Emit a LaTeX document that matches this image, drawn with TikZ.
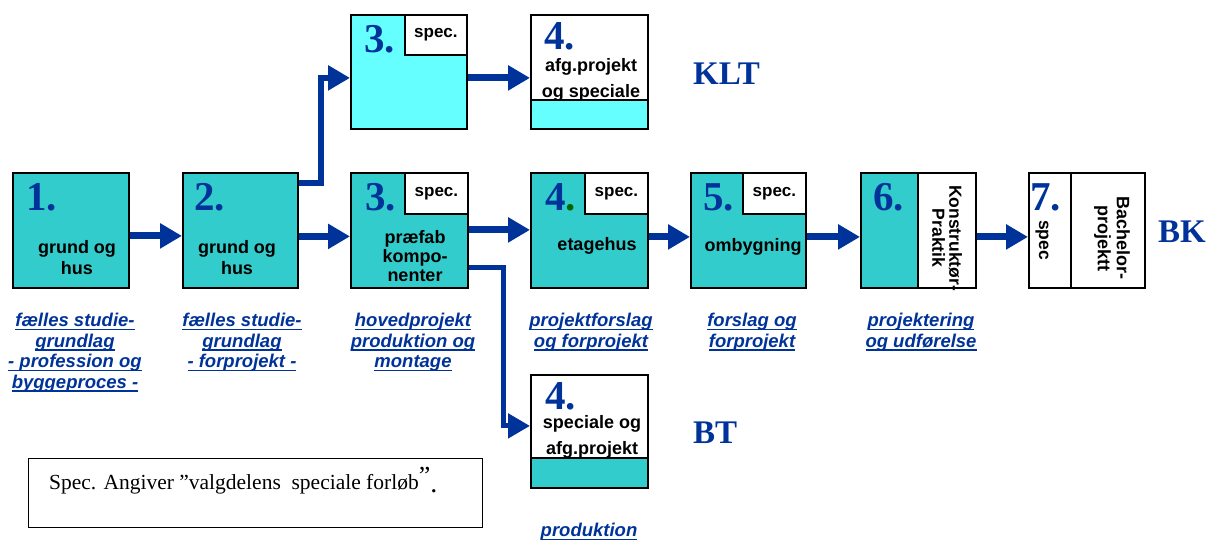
\documentclass[tikz,border=0pt]{standalone}
\usepackage{fontspec}
\setmainfont{Liberation Serif}
\newfontfamily\arial{Liberation Sans}
\usetikzlibrary{arrows.meta}
\definecolor{blu}{HTML}{003399}
\definecolor{tealb}{HTML}{33CCCC}
\definecolor{cyanb}{HTML}{66FFFF}
\definecolor{dkgreen}{HTML}{006600}
\newcommand\myul[1]{\setbox0\hbox{#1}\rlap{\rule[-3.5pt]{\wd0}{1.6pt}}\box0}
\tikzset{
  box/.style={draw=black, line width=1.8pt, anchor=north west, inner sep=0pt},
  specbox/.style={draw=black, line width=1.8pt, fill=white, anchor=north east, inner sep=0pt,
    minimum width=62pt, minimum height=41pt, font=\arial\bfseries\fontsize{17}{20}\selectfont},
  num/.style={anchor=base west, inner sep=0pt, text=blu, font=\bfseries\fontsize{41}{41}\selectfont},
  btxt/.style={inner sep=0pt, align=center, font=\arial\bfseries\fontsize{18}{21}\selectfont},
  vtxt/.style={inner sep=0pt, align=center, rotate=-90, font=\arial\bfseries\fontsize{17.5}{17}\selectfont},
  link/.style={anchor=north, inner sep=0pt, align=center, text=blu, font=\arial\bfseries\itshape\fontsize{18.5}{20.5}\selectfont},
  big/.style={anchor=base west, inner sep=0pt, text=blu, font=\bfseries\fontsize{33}{33}\selectfont},
  arr/.style={draw=blu, line width=7pt, line join=miter, -{Triangle[length=22pt,width=24pt]}}
}
\begin{document}
\begin{tikzpicture}[x=1pt,y=-1pt]
\useasboundingbox (0,0) rectangle (1212,542);
% boxes
\node[box, fill=tealb, minimum width=116pt, minimum height=115pt] (b1) at (12,172) {};
\node[box, fill=tealb, minimum width=115pt, minimum height=115pt] (b2) at (182,172) {};
\node[box, fill=cyanb, minimum width=116pt, minimum height=114pt] (b3t) at (350,14) {};
\node[specbox, minimum height=40pt] (s3t) at (b3t.north east) {spec.};
\node[box, fill=white, minimum width=117pt, minimum height=114pt] (b4t) at (530,14) {};
\node[box, fill=cyanb, minimum width=117pt, minimum height=29pt, anchor=south west] (b4ts) at (b4t.south west) {};
\node[box, fill=tealb, minimum width=117pt, minimum height=115pt] (b3m) at (350,172) {};
\node[specbox, minimum width=63pt] (s3m) at (b3m.north east) {spec.};
\node[box, fill=tealb, minimum width=117pt, minimum height=115pt] (b4m) at (530,172) {};
\node[specbox, minimum width=63pt] (s4m) at (b4m.north east) {spec.};
\node[box, fill=tealb, minimum width=115pt, minimum height=115pt] (b5) at (690,172) {};
\node[specbox, minimum width=63pt] (s5) at (b5.north east) {spec.};
\node[box, fill=tealb, minimum width=57pt, minimum height=115pt] (b6) at (860,172) {};
\node[box, fill=white, minimum width=58pt, minimum height=115pt] (b6w) at (917,172) {};
\node[box, fill=white, minimum width=42pt, minimum height=115pt] (b7a) at (1028,172) {};
\node[box, fill=white, minimum width=74pt, minimum height=115pt] (b7b) at (1070,172) {};
\node[box, fill=white, minimum width=117pt, minimum height=113pt] (b4b) at (530,374) {};
\node[box, fill=tealb, minimum width=117pt, minimum height=30pt, anchor=south west] (b4bs) at (b4b.south west) {};
% numbers
\node[num] (n1) at (26,210) {1.};
\node[num] (n2) at (194,210) {2.};
\node[num] (n3t) at (364,52) {3.};
\node[num] (n4t) at (544,49) {4.};
\node[num] (n3m) at (365,210) {3.};
\node[num] (n4m) at (545,210) {4\textcolor{dkgreen}{.}};
\node[num] (n5) at (703,210) {5.};
\node[num] (n6) at (873,210) {6.};
\node[num] (n7) at (1030,210) {7.};
\node[num] (n4b) at (545,409) {4.};
% box texts
\node[btxt] (t1) at (77,258) {grund og\\hus};
\node[btxt] (t2) at (237,258) {grund og\\hus};
\node[btxt, font=\arial\bfseries\fontsize{18}{19}\selectfont] (t3m) at (415,256) {præfab\\kompo-\\nenter};
\node[btxt, anchor=base] (t4m) at (597,250) {etagehus};
\node[btxt, anchor=base] (t5) at (753,251) {ombygning};
\node[btxt, font=\arial\bfseries\fontsize{18}{26}\selectfont] (t4t) at (591,80) {afg.projekt\\og speciale};
\node[btxt, font=\arial\bfseries\fontsize{18}{26}\selectfont] (t4b) at (592,437) {speciale og\\afg.projekt};
\node[vtxt] (t6) at (947,238) {Konstruktør-\\Praktik};
\node[vtxt] (t7a) at (1042,240) {spec};
\node[vtxt, font=\arial\bfseries\fontsize{18}{19}\selectfont] (t7b) at (1112,238) {Bachelor-\\projektt};
% big labels
\node[big] (klt) at (693,84) {KLT};
\node[big] (bk) at (1158,242) {BK};
\node[big] (bt) at (693,443) {BT};
% link texts
\node[link] (l1) at (75,313) {\myul{fælles studie-}\\\myul{grundlag}\\\myul{- profession og}\\\myul{byggeproces -}};
\node[link] (l2) at (242,313) {\myul{fælles studie-}\\\myul{grundlag}\\\myul{- forprojekt -}};
\node[link] (l3) at (413,313) {\myul{hovedprojekt}\\\myul{produktion og}\\\myul{montage}};
\node[link] (l4) at (591,313) {\myul{projektforslag}\\\myul{og forprojekt}};
\node[link] (l5) at (752,313) {\myul{forslag og}\\\myul{forprojekt}};
\node[link] (l6) at (921,313) {\myul{projektering}\\\myul{og udførelse}};
\node[link] (l7) at (589,523) {\myul{produktion}};
% legend
\node[box, line width=1.2pt, minimum width=454pt, minimum height=69pt] (leg) at (28,458) {};
\node[anchor=base west, inner sep=0pt, font=\fontsize{21.5}{24}\selectfont] (legt) at (49,489)
  {Spec. Angiver ”valgdelens\ \ speciale forløb\raisebox{5pt}{\fontsize{26}{26}\selectfont ”}\raisebox{-3pt}{\fontsize{28}{28}\selectfont .}};
% connectors
\draw[arr] ([yshift=-5.5pt]b1.east) -- ([yshift=-5.5pt]b2.west);
\draw[arr] ([yshift=-6pt]b2.east) -- ([yshift=-6pt]b3m.west);
\draw[arr] ([yshift=0.5pt]b3m.east) -- ([yshift=0.5pt]b4m.west);
\draw[arr] ([yshift=-6.5pt]b4m.east) -- ([yshift=-6.5pt]b5.west);
\draw[arr] ([yshift=-6.5pt]b5.east) -- ([yshift=-6.5pt]b6.west);
\draw[arr] ([yshift=-6.5pt]b6w.east) -- ([yshift=-6.5pt]b7a.west);
\draw[arr] ([yshift=-6pt]b3t.east) -- ([yshift=-6pt]b4t.west);
\draw[arr, line width=6pt] ([yshift=-11pt]b2.north east) -- ++(22,0) |- ([yshift=-6pt]b3t.west);
\draw[arr, line width=5pt] ([yshift=-95pt]b3m.north east) -- ++(35,0) |- ([yshift=5.5pt]b4b.west);
\end{tikzpicture}
\end{document}
